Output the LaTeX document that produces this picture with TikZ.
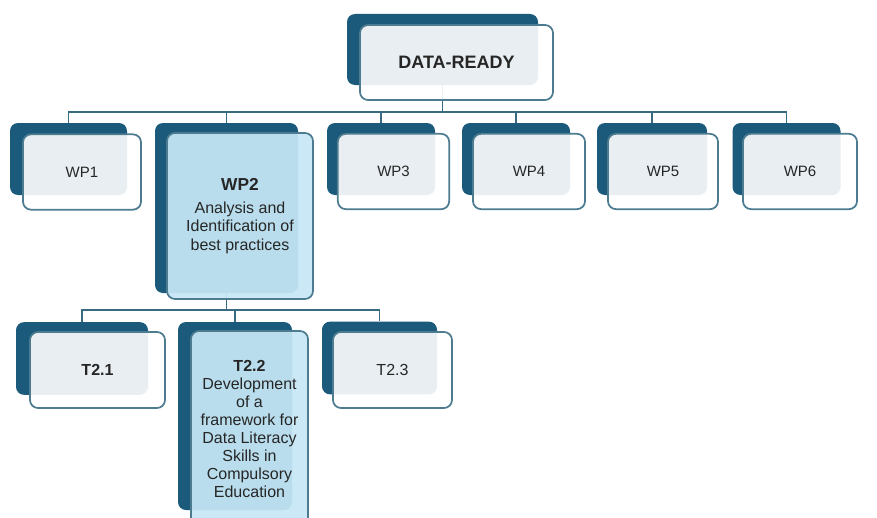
\documentclass[tikz,border=0pt]{standalone}
\usepackage{fontspec}
\setmainfont{Liberation Sans}
\usetikzlibrary{positioning}
\definecolor{wpdark}{HTML}{1B5A7A}
\definecolor{wpedge}{HTML}{4D7B90}
\definecolor{wplight}{HTML}{C6E7F5}
\definecolor{wptext}{HTML}{262626}
\definecolor{wpline}{HTML}{386A82}

\begin{document}
\begin{tikzpicture}[x=0.75pt,y=-0.75pt,
    back/.style={fill=wpdark,rounded corners=6pt,inner sep=0pt},
    front/.style={draw=wpedge,line width=1.3pt,fill=white,fill opacity=0.9,
      text opacity=1,rounded corners=6pt,text=wptext,align=center,inner sep=0pt,
      font=\fontsize{11.25}{13.5}\selectfont},
    hot/.style={fill=wplight,fill opacity=0.93},
    link/.style={draw=wpline,line width=1.3pt},
    wpback/.style={back,minimum width=81pt,minimum height=54pt},
    wpfront/.style={front,minimum width=83.5pt,minimum height=56.5pt},
    tback/.style={back,minimum width=92pt,minimum height=54.5pt},
    tfront/.style={front,minimum width=95pt,minimum height=57pt,
      font=\fontsize{12}{13.5}\selectfont}]
    \useasboundingbox (0,0) rectangle (877,517);
    \fill[white] (0,0) rectangle (877,517);
    \clip (0,0) rectangle (877,517);

    % Progetto
    \node[back,minimum width=143.25pt,minimum height=53.25pt] (topback) at (442.5,49.5) {};

    % Work packages (parte scura)
    \node[wpback,minimum width=87.75pt] (wp1back) at (68.5,159) {};
    \node[back,minimum width=107.25pt,minimum height=127.5pt] (wp2back) at (226.5,208) {};
    \node[wpback] (wp3back) at (381,159) {};
    \node[wpback] (wp4back) at (516,159) {};
    \node[wpback,minimum width=82.5pt] (wp5back) at (652,159) {};
    \node[wpback] (wp6back) at (786.5,159) {};

    % Task del WP2 (parte scura)
    \node[tback,minimum width=99pt] (t21back) at (82,358.5) {};
    \node[back,minimum width=85.5pt,minimum height=141pt] (t22back) at (235,416) {};
    \node[tback,minimum width=86.25pt] (t23back) at (379.5,358) {};

    % Collegamenti
    \foreach \n in {wp1,wp2,wp3,wp4,wp5,wp6}
      \draw[link] (topback.south) -- ++(0,27) -| (\n back.north);
    \foreach \n in {t21,t22,t23}
      \draw[link] (wp2back.south) -- ++(0,17) -| (\n back.north);

    % Riquadri chiari con le etichette
    \node[front,minimum width=144.75pt,minimum height=56.25pt,
      font=\fontsize{13.5}{16}\selectfont\bfseries,text=black!85] (top) at (456.5,62.5) {DATA-READY};
    \node[wpfront,minimum width=88.5pt] (wp1) at (82,172) {WP1};
    \node[front,hot,minimum width=109.5pt,minimum height=124.5pt,
      font=\fontsize{12}{13.9}\selectfont] (wp2) at (240,216)
      {{\fontsize{13}{16}\selectfont\bfseries WP2}\\[3pt]Analysis and\\Identification of\\best practices};
    \node[wpfront] (wp3) at (393.5,171.5) {WP3};
    \node[wpfront,minimum width=84pt] (wp4) at (529,171.5) {WP4};
    \node[wpfront,minimum width=82.5pt] (wp5) at (663,171.5) {WP5};
    \node[wpfront,minimum width=85.5pt] (wp6) at (800,171.5) {WP6};

    \node[tfront,minimum width=101.25pt,font=\fontsize{12}{13.5}\selectfont\bfseries] (t21) at (97.5,370) {T2.1};
    \node[tfront,hot,minimum width=87.75pt,minimum height=147pt] (t22) at (249.5,429)
      {\textbf{T2.2}\\Development\\of a\\framework for\\Data Literacy\\Skills in\\Compulsory\\Education};
    \node[tfront,minimum width=89.25pt] (t23) at (392.5,370) {T2.3};
\end{tikzpicture}
\end{document}
